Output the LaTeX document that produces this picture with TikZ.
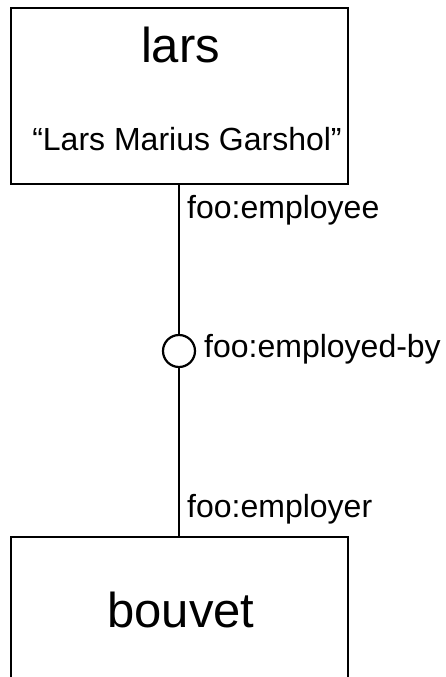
\documentclass[tikz,border=0pt]{standalone}
\usepackage{fontspec}
\setmainfont{Liberation Sans}
\begin{document}
\begin{tikzpicture}[x=1pt,y=-1pt,
  box/.style={draw,line width=2.2pt,inner sep=0pt,minimum width=337pt},
  big/.style={inner sep=0pt,font=\fontsize{49}{57}\selectfont},
  txt/.style={inner sep=0pt,font=\fontsize{32}{38}\selectfont},
  conn/.style={line width=2.2pt},
  ring/.style={draw,circle,line width=2.2pt,inner sep=0pt,minimum size=32pt}]
\useasboundingbox (0,0) rectangle (445,677);
\clip (0,0) rectangle (445,677);
\node[box,minimum height=176pt] (lars) at (179.5,96) {};
\node[box,minimum height=200pt] (bouvet) at (179.5,637) {};
\node[big,anchor=base] (larsname) at (180.5,63) {lars};
\node[txt,anchor=base] (larsstr) at (187,150) {“Lars Marius Garshol”};
\node[big,anchor=base] (bouvetname) at (181,627) {bouvet};
\node[ring] (assoc) at (179,351) {};
\coordinate (top) at (179,184);
\coordinate (bot) at (179,537);
\draw[conn] (top) -- (assoc.north);
\draw[conn] (assoc.south) -- (bot);
\node[txt,anchor=base west] (lemployee) at (187,218) {foo:employee};
\node[txt,anchor=base west] (lassoc) at (204,357) {foo:employed-by};
\node[txt,anchor=base west] (lemployer) at (187,517) {foo:employer};
\end{tikzpicture}
\end{document}
